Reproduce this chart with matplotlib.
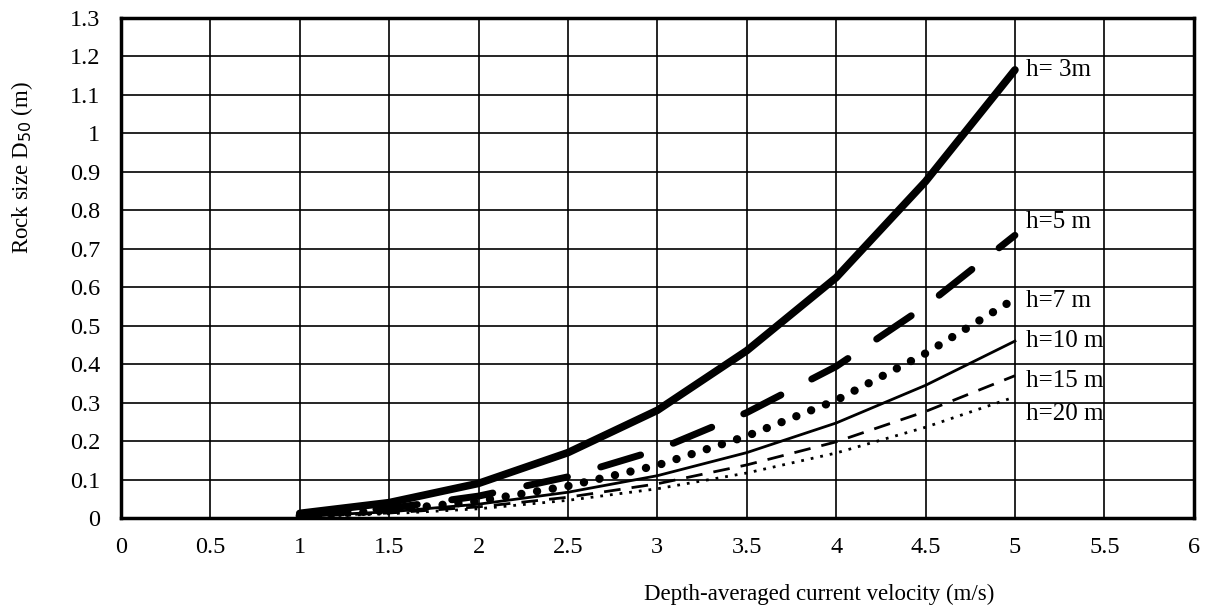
import numpy as np
import matplotlib
matplotlib.use('Agg')
import matplotlib.pyplot as plt

plt.rcParams['font.family'] = ['Liberation Serif', 'DejaVu Serif']

velocity = [1.0, 1.5, 2.0, 2.5, 3.0, 3.5, 4.0, 4.5, 5.0]
d50_h3 = [0.012, 0.040, 0.090, 0.170, 0.280, 0.435, 0.625, 0.875, 1.165]
d50_h5 = [0.008, 0.025, 0.057, 0.107, 0.177, 0.274, 0.394, 0.551, 0.735]
d50_h7 = [0.006, 0.020, 0.044, 0.083, 0.137, 0.213, 0.306, 0.428, 0.570]
d50_h10 = [0.005, 0.016, 0.036, 0.067, 0.110, 0.170, 0.247, 0.345, 0.460]
d50_h15 = [0.004, 0.013, 0.029, 0.054, 0.089, 0.138, 0.198, 0.277, 0.370]
d50_h20 = [0.003, 0.011, 0.024, 0.046, 0.076, 0.117, 0.169, 0.236, 0.315]

labels = ['h= 3m', 'h=5 m', 'h=7 m', 'h=10 m', 'h=15 m', 'h=20 m']
label_y = [1.165, 0.77, 0.565, 0.46, 0.355, 0.27]

fig = plt.figure(figsize=(12.07, 6.10), dpi=100)
ax = fig.add_axes([0.1002, 0.1508, 0.8888, 0.8197])

ax.plot(velocity, d50_h3, color='black', lw=5.5, solid_capstyle='round')
ax.plot(velocity, d50_h5, color='black', lw=5, dashes=(6, 5), dash_capstyle='round')
ax.plot(velocity, d50_h7, color='black', lw=6, dashes=(0.01, 1.9), dash_capstyle='round')
ax.plot(velocity, d50_h10, color='black', lw=2)
ax.plot(velocity, d50_h15, color='black', lw=2, dashes=(6, 4))
ax.plot(velocity, d50_h20, color='black', lw=2, dashes=(1, 2.5))

for lab, y in zip(labels, label_y):
    ax.text(5.06, y, lab, fontsize=18, va='center', ha='left')

ax.set_xlim(0, 6)
ax.set_ylim(0, 1.3)
ax.set_xticks(np.arange(0, 6.01, 0.5))
ax.set_xticklabels(['0', '0.5', '1', '1.5', '2', '2.5', '3', '3.5', '4', '4.5', '5', '5.5', '6'])
ax.set_yticks(np.arange(0, 1.31, 0.1))
ax.set_yticklabels(['0', '0.1', '0.2', '0.3', '0.4', '0.5', '0.6', '0.7', '0.8', '0.9', '1', '1.1', '1.2', '1.3'])
ax.tick_params(labelsize=17.5, length=0)
ax.tick_params(axis='x', pad=14)
ax.tick_params(axis='y', pad=15)
ax.grid(True, color='black', lw=1.2)
ax.set_axisbelow(True)
for s in ax.spines.values():
    s.set_linewidth(2.5)

fig.text(0.679, 0.026, 'Depth-averaged current velocity (m/s)', fontsize=16.5, ha='center', va='center')
fig.text(0.018, 0.726, r'Rock size D$_{50}$ (m)', fontsize=16.5, rotation=90, ha='center', va='center')

fig.savefig('out.png', dpi=100)
